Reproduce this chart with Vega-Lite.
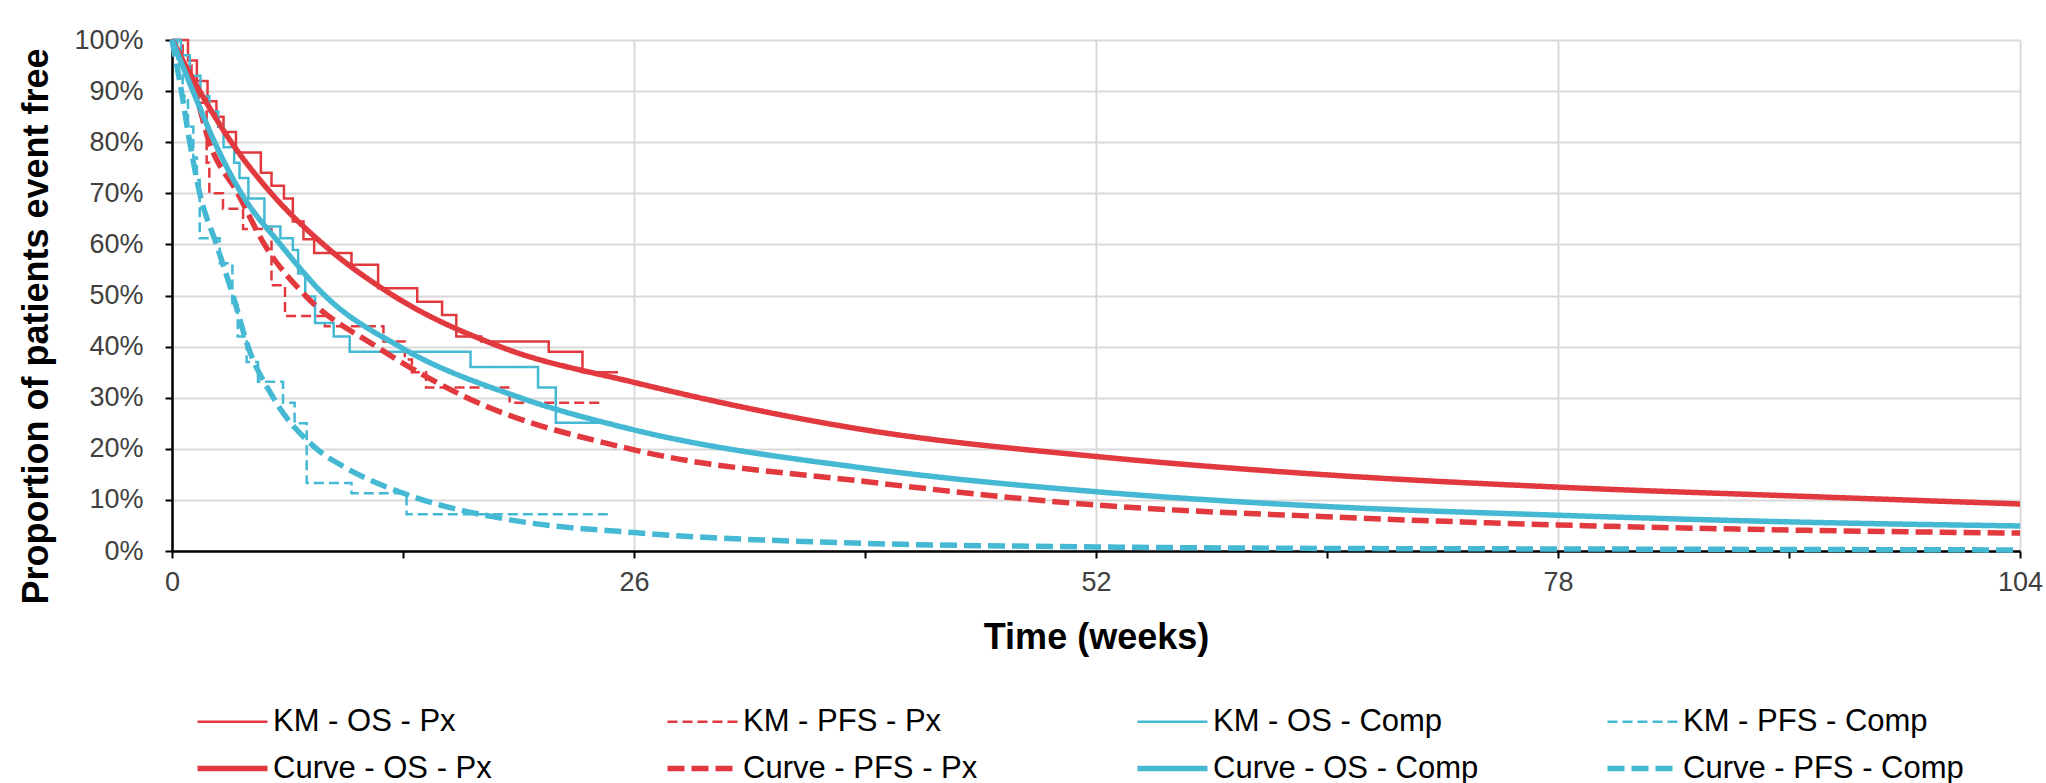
{
  "$schema": "https://vega.github.io/schema/vega-lite/v6.json",
  "width": 1848,
  "height": 511,
  "autosize": {"type": "none"},
  "padding": {"left": 172, "top": 40, "right": 26, "bottom": 232},
  "background": "white",
  "config": {"font": "Liberation Sans", "view": {"stroke": null}},
  "datasets": {
    "surv": [
      {"s": "KM - OS - Px", "t": 0, "p": 100}, {"s": "KM - OS - Px", "t": 0.9, "p": 96}, {"s": "KM - OS - Px", "t": 1.4, "p": 92}, {"s": "KM - OS - Px", "t": 2.0, "p": 88}, {"s": "KM - OS - Px", "t": 2.5, "p": 85}, {"s": "KM - OS - Px", "t": 2.9, "p": 82}, {"s": "KM - OS - Px", "t": 3.6, "p": 78}, {"s": "KM - OS - Px", "t": 5.0, "p": 74}, {"s": "KM - OS - Px", "t": 5.6, "p": 71.5}, {"s": "KM - OS - Px", "t": 6.3, "p": 69}, {"s": "KM - OS - Px", "t": 6.8, "p": 64.5}, {"s": "KM - OS - Px", "t": 7.4, "p": 61}, {"s": "KM - OS - Px", "t": 8.0, "p": 58.3}, {"s": "KM - OS - Px", "t": 10.1, "p": 56}, {"s": "KM - OS - Px", "t": 11.6, "p": 51.4}, {"s": "KM - OS - Px", "t": 13.8, "p": 48.8}, {"s": "KM - OS - Px", "t": 15.2, "p": 46.2}, {"s": "KM - OS - Px", "t": 16.0, "p": 42}, {"s": "KM - OS - Px", "t": 17.4, "p": 41}, {"s": "KM - OS - Px", "t": 21.2, "p": 39}, {"s": "KM - OS - Px", "t": 23.1, "p": 35}, {"s": "KM - OS - Px", "t": 25.1, "p": 35},
      {"s": "KM - PFS - Px", "t": 0, "p": 100}, {"s": "KM - PFS - Px", "t": 0.6, "p": 95}, {"s": "KM - PFS - Px", "t": 1.1, "p": 91}, {"s": "KM - PFS - Px", "t": 1.5, "p": 87.7}, {"s": "KM - PFS - Px", "t": 1.95, "p": 76}, {"s": "KM - PFS - Px", "t": 2.1, "p": 70}, {"s": "KM - PFS - Px", "t": 2.87, "p": 67}, {"s": "KM - PFS - Px", "t": 4.0, "p": 63}, {"s": "KM - PFS - Px", "t": 5.6, "p": 52}, {"s": "KM - PFS - Px", "t": 6.36, "p": 46}, {"s": "KM - PFS - Px", "t": 8.6, "p": 44}, {"s": "KM - PFS - Px", "t": 11.9, "p": 41}, {"s": "KM - PFS - Px", "t": 13.1, "p": 37.5}, {"s": "KM - PFS - Px", "t": 13.5, "p": 35}, {"s": "KM - PFS - Px", "t": 14.3, "p": 32}, {"s": "KM - PFS - Px", "t": 19.0, "p": 29}, {"s": "KM - PFS - Px", "t": 24.1, "p": 29},
      {"s": "KM - OS - Comp", "t": 0, "p": 100}, {"s": "KM - OS - Comp", "t": 0.5, "p": 97}, {"s": "KM - OS - Comp", "t": 1.0, "p": 93}, {"s": "KM - OS - Comp", "t": 1.6, "p": 89}, {"s": "KM - OS - Comp", "t": 2.1, "p": 86}, {"s": "KM - OS - Comp", "t": 2.6, "p": 83}, {"s": "KM - OS - Comp", "t": 2.9, "p": 79}, {"s": "KM - OS - Comp", "t": 3.5, "p": 76}, {"s": "KM - OS - Comp", "t": 3.8, "p": 73}, {"s": "KM - OS - Comp", "t": 4.3, "p": 69}, {"s": "KM - OS - Comp", "t": 5.2, "p": 63.5}, {"s": "KM - OS - Comp", "t": 6.1, "p": 61.2}, {"s": "KM - OS - Comp", "t": 6.8, "p": 58.9}, {"s": "KM - OS - Comp", "t": 7.1, "p": 54.3}, {"s": "KM - OS - Comp", "t": 7.5, "p": 49.8}, {"s": "KM - OS - Comp", "t": 8.05, "p": 44.6}, {"s": "KM - OS - Comp", "t": 9.1, "p": 42}, {"s": "KM - OS - Comp", "t": 10.0, "p": 39}, {"s": "KM - OS - Comp", "t": 16.8, "p": 36}, {"s": "KM - OS - Comp", "t": 20.6, "p": 32}, {"s": "KM - OS - Comp", "t": 21.6, "p": 25.1}, {"s": "KM - OS - Comp", "t": 24.8, "p": 25.1},
      {"s": "KM - PFS - Comp", "t": 0, "p": 100}, {"s": "KM - PFS - Comp", "t": 0.3, "p": 95}, {"s": "KM - PFS - Comp", "t": 0.6, "p": 89}, {"s": "KM - PFS - Comp", "t": 0.9, "p": 83}, {"s": "KM - PFS - Comp", "t": 1.2, "p": 77}, {"s": "KM - PFS - Comp", "t": 1.4, "p": 72.6}, {"s": "KM - PFS - Comp", "t": 1.56, "p": 61.2}, {"s": "KM - PFS - Comp", "t": 2.68, "p": 56.3}, {"s": "KM - PFS - Comp", "t": 3.4, "p": 48.5}, {"s": "KM - PFS - Comp", "t": 3.7, "p": 42}, {"s": "KM - PFS - Comp", "t": 4.2, "p": 37}, {"s": "KM - PFS - Comp", "t": 4.84, "p": 33.1}, {"s": "KM - PFS - Comp", "t": 6.25, "p": 29}, {"s": "KM - PFS - Comp", "t": 6.9, "p": 25}, {"s": "KM - PFS - Comp", "t": 7.58, "p": 13.3}, {"s": "KM - PFS - Comp", "t": 10.1, "p": 11.3}, {"s": "KM - PFS - Comp", "t": 13.2, "p": 7.2}, {"s": "KM - PFS - Comp", "t": 24.8, "p": 7.2},
      {"s": "Curve - OS - Px", "t": 0, "p": 100}, {"s": "Curve - OS - Px", "t": 1.56, "p": 90}, {"s": "Curve - OS - Px", "t": 3.34, "p": 80}, {"s": "Curve - OS - Px", "t": 5.59, "p": 70}, {"s": "Curve - OS - Px", "t": 8.52, "p": 60}, {"s": "Curve - OS - Px", "t": 12.45, "p": 50}, {"s": "Curve - OS - Px", "t": 18.46, "p": 40}, {"s": "Curve - OS - Px", "t": 26, "p": 33}, {"s": "Curve - OS - Px", "t": 39, "p": 23.7}, {"s": "Curve - OS - Px", "t": 52, "p": 18.5}, {"s": "Curve - OS - Px", "t": 65, "p": 14.9}, {"s": "Curve - OS - Px", "t": 78, "p": 12.5}, {"s": "Curve - OS - Px", "t": 91, "p": 10.8}, {"s": "Curve - OS - Px", "t": 104, "p": 9.2},
      {"s": "Curve - PFS - Px", "t": 0, "p": 100}, {"s": "Curve - PFS - Px", "t": 1.28, "p": 90}, {"s": "Curve - PFS - Px", "t": 2.1, "p": 80}, {"s": "Curve - PFS - Px", "t": 3.7, "p": 70}, {"s": "Curve - PFS - Px", "t": 5.2, "p": 60}, {"s": "Curve - PFS - Px", "t": 7.5, "p": 50}, {"s": "Curve - PFS - Px", "t": 11.5, "p": 40}, {"s": "Curve - PFS - Px", "t": 16.6, "p": 30}, {"s": "Curve - PFS - Px", "t": 26, "p": 19.8}, {"s": "Curve - PFS - Px", "t": 39, "p": 13.6}, {"s": "Curve - PFS - Px", "t": 52, "p": 9.0}, {"s": "Curve - PFS - Px", "t": 65, "p": 6.7}, {"s": "Curve - PFS - Px", "t": 78, "p": 5.1}, {"s": "Curve - PFS - Px", "t": 91, "p": 4.1}, {"s": "Curve - PFS - Px", "t": 104, "p": 3.5},
      {"s": "Curve - OS - Comp", "t": 0, "p": 100}, {"s": "Curve - OS - Comp", "t": 1.18, "p": 90}, {"s": "Curve - OS - Comp", "t": 2.4, "p": 80}, {"s": "Curve - OS - Comp", "t": 3.9, "p": 70}, {"s": "Curve - OS - Comp", "t": 6.1, "p": 60}, {"s": "Curve - OS - Comp", "t": 8.6, "p": 50}, {"s": "Curve - OS - Comp", "t": 12.8, "p": 40}, {"s": "Curve - OS - Comp", "t": 19.6, "p": 30}, {"s": "Curve - OS - Comp", "t": 26, "p": 23.7}, {"s": "Curve - OS - Comp", "t": 39, "p": 16.2}, {"s": "Curve - OS - Comp", "t": 52, "p": 11.6}, {"s": "Curve - OS - Comp", "t": 65, "p": 8.7}, {"s": "Curve - OS - Comp", "t": 78, "p": 7.0}, {"s": "Curve - OS - Comp", "t": 91, "p": 5.7}, {"s": "Curve - OS - Comp", "t": 104, "p": 4.9},
      {"s": "Curve - PFS - Comp", "t": 0, "p": 100}, {"s": "Curve - PFS - Comp", "t": 0.53, "p": 90}, {"s": "Curve - PFS - Comp", "t": 1.0, "p": 80}, {"s": "Curve - PFS - Comp", "t": 1.56, "p": 70}, {"s": "Curve - PFS - Comp", "t": 2.5, "p": 60}, {"s": "Curve - PFS - Comp", "t": 3.43, "p": 50}, {"s": "Curve - PFS - Comp", "t": 4.28, "p": 40}, {"s": "Curve - PFS - Comp", "t": 5.7, "p": 30}, {"s": "Curve - PFS - Comp", "t": 8.14, "p": 20}, {"s": "Curve - PFS - Comp", "t": 9.83, "p": 16.2}, {"s": "Curve - PFS - Comp", "t": 13.6, "p": 10.6}, {"s": "Curve - PFS - Comp", "t": 19.2, "p": 6}, {"s": "Curve - PFS - Comp", "t": 26, "p": 3.6}, {"s": "Curve - PFS - Comp", "t": 39, "p": 1.5}, {"s": "Curve - PFS - Comp", "t": 52, "p": 0.8}, {"s": "Curve - PFS - Comp", "t": 65, "p": 0.5}, {"s": "Curve - PFS - Comp", "t": 78, "p": 0.4}, {"s": "Curve - PFS - Comp", "t": 91, "p": 0.3}, {"s": "Curve - PFS - Comp", "t": 104, "p": 0.2}
    ]
  },
  "data": {"name": "surv"},
  "encoding": {
    "x": {
      "field": "t", "type": "quantitative",
      "scale": {"domain": [0, 104], "nice": false},
      "axis": {
        "title": "Time (weeks)",
        "values": [0, 13, 26, 39, 52, 65, 78, 91, 104],
        "labelExpr": "datum.value % 26 === 0 ? datum.label : ''",
        "labelFontSize": 27, "labelColor": "#404040", "labelPadding": 11, "labelFlush": false,
        "tickSize": 7, "tickColor": "#000000", "tickWidth": 2,
        "domainColor": "#000000", "domainWidth": 2.5,
        "grid": true, "gridColor": "#d9d9d9", "gridWidth": 2,
        "gridOpacity": {"condition": {"test": "datum.value % 26 === 0", "value": 1}, "value": 0},
        "titleFontSize": 36, "titleFontWeight": "bold", "titleColor": "#000000", "titlePadding": 25
      }
    },
    "y": {
      "field": "p", "type": "quantitative",
      "scale": {"domain": [0, 100], "nice": false},
      "axis": {
        "title": "Proportion of patients event free",
        "values": [0, 10, 20, 30, 40, 50, 60, 70, 80, 90, 100],
        "labelExpr": "datum.value + '%'",
        "labelFontSize": 27, "labelColor": "#404040", "labelPadding": 22,
        "tickSize": 7, "tickColor": "#000000", "tickWidth": 2,
        "domainColor": "#000000", "domainWidth": 2.5,
        "grid": true, "gridColor": "#d9d9d9", "gridWidth": 2,
        "titleFontSize": 36, "titleFontWeight": "bold", "titleColor": "#000000",
        "titleAngle": -90, "titleX": -136, "titleY": 286, "titleAlign": "center", "titleBaseline": "middle"
      }
    },
    "color": {
      "field": "s", "type": "nominal",
      "scale": {
        "domain": ["KM - OS - Px", "KM - PFS - Px", "KM - OS - Comp", "KM - PFS - Comp", "Curve - OS - Px", "Curve - PFS - Px", "Curve - OS - Comp", "Curve - PFS - Comp"],
        "range": ["#E2393F", "#E2393F", "#45B9D3", "#45B9D3", "#E2393F", "#E2393F", "#45B9D3", "#45B9D3"]
      },
      "legend": {
        "title": null, "orient": "none", "legendX": 45, "legendY": 666,
        "columns": 4, "direction": "horizontal", "gridAlign": "all",
        "symbolType": "stroke", "symbolSize": 4900, "symbolStrokeWidth": 2.5,
        "labelFontSize": 31, "labelColor": "#000000", "labelOffset": 25, "labelLimit": 400,
        "columnPadding": 102, "rowPadding": 15, "padding": 0,
        "encode": {"symbols": {"update": {"strokeWidth": {"signal": "datum.index < 4 ? 2.5 : 5.5"}}}}
      }
    },
    "strokeDash": {
      "field": "s", "type": "nominal",
      "scale": {
        "domain": ["KM - OS - Px", "KM - PFS - Px", "KM - OS - Comp", "KM - PFS - Comp", "Curve - OS - Px", "Curve - PFS - Px", "Curve - OS - Comp", "Curve - PFS - Comp"],
        "range": [[1, 0], [10, 5], [1, 0], [10, 5], [1, 0], [17, 7], [1, 0], [17, 7]]
      },
      "legend": {
        "title": null, "orient": "none", "legendX": 45, "legendY": 666,
        "columns": 4, "direction": "horizontal", "gridAlign": "all",
        "symbolType": "stroke", "symbolSize": 4900, "symbolStrokeWidth": 2.5,
        "labelFontSize": 31, "labelColor": "#000000", "labelOffset": 25, "labelLimit": 400,
        "columnPadding": 102, "rowPadding": 15, "padding": 0,
        "encode": {"symbols": {"update": {"strokeWidth": {"signal": "datum.index < 4 ? 2.5 : 5.5"}}}}
      }
    }
  },
  "layer": [
    {
      "transform": [{"filter": {"field": "s", "oneOf": ["KM - OS - Px", "KM - PFS - Px", "KM - OS - Comp", "KM - PFS - Comp"]}}],
      "mark": {"type": "line", "interpolate": "step-after", "strokeWidth": 2.5}
    },
    {
      "transform": [{"filter": {"field": "s", "oneOf": ["Curve - OS - Px", "Curve - PFS - Px", "Curve - OS - Comp", "Curve - PFS - Comp"]}}],
      "mark": {"type": "line", "interpolate": "monotone", "strokeWidth": 5.5}
    }
  ]
}
